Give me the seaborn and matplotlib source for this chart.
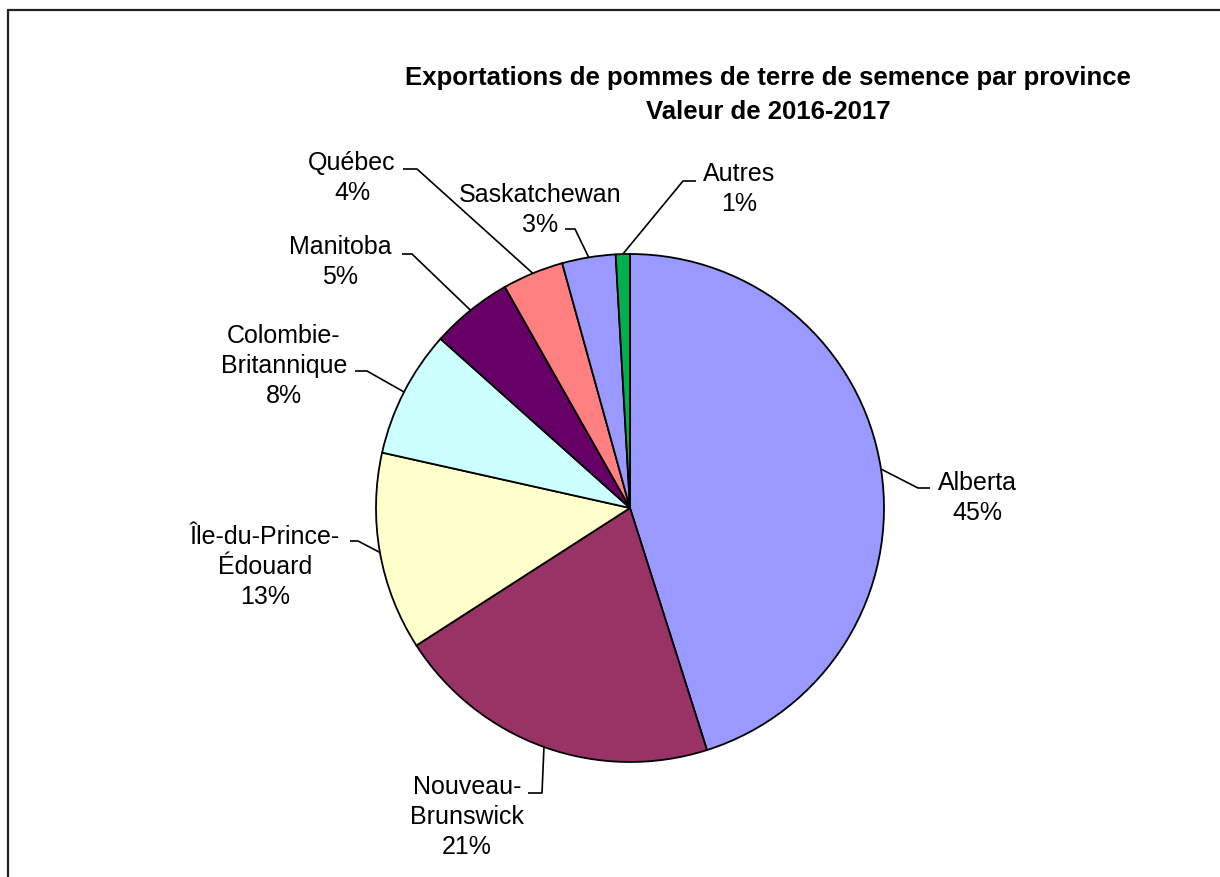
import numpy as np
import matplotlib.pyplot as plt
import seaborn as sns

# Exportations de pommes de terre de semence par province (2016-2017)
provinces = ['Alberta', 'Nouveau-\nBrunswick', 'Île-du-Prince-\nÉdouard',
             'Colombie-\nBritannique', 'Manitoba', 'Québec', 'Saskatchewan', 'Autres']
shares = [45.1, 20.8, 12.6, 8.1, 5.2, 3.9, 3.4, 0.9]
title_lines = ['Exportations de pommes de terre de semence par province',
               'Valeur de 2016-2017']

colors = ['#9999FF', '#993366', '#FFFFCC', '#CCFFFF', '#660066', '#FF8080', '#9999FF', '#00B050']

sns.set_theme(style='white')
plt.rcParams['font.family'] = ['Liberation Sans', 'DejaVu Sans']

W, H = 1220, 878
CX, CY, R = 630, 509, 254


def px(x, y):
    # pixel (from top-left) -> data units (pie radius = 1)
    return (x - CX) / R, (CY - y) / R


# position des étiquettes : centre du texte, coude et fin du trait de rappel
label_pos = [(977, 498), (467, 817), (265, 567), (284, 366),
             (340, 262), (352, 178), (540, 210), (739, 189)]
bends = [(918, 489), (542, 794), (358, 542), (367, 372),
         (412, 255), (417, 170), (575, 230), (683, 182)]
ends = [(930, 489), (528, 794), (350, 542), (355, 372),
        (402, 255), (403, 170), (565, 230), (696, 182)]

fig = plt.figure(figsize=(W / 100, H / 100), dpi=100)
ax = fig.add_axes([0, 0, 1, 1])
wedges, _ = ax.pie(shares, colors=colors, startangle=90, counterclock=False,
                   radius=1, wedgeprops=dict(edgecolor='black', linewidth=1.3))
ax.set_xlim(-CX / R, (W - CX) / R)
ax.set_ylim(-(H - CY) / R, CY / R)
ax.set_aspect('auto')
ax.axis('off')

total = sum(shares)
for w, name, v, lp, b, e in zip(wedges, provinces, shares, label_pos, bends, ends):
    mid = np.deg2rad((w.theta1 + w.theta2) / 2)
    x0, y0 = np.cos(mid), np.sin(mid)
    bx, by = px(*b)
    ex, ey = px(*e)
    ax.plot([x0, bx, ex], [y0, by, ey], color='black', lw=1.2, solid_capstyle='butt')
    tx, ty = px(*lp)
    ax.text(tx, ty, f'{name}\n{round(v / total * 100):.0f}%', ha='center', va='center',
            fontsize=18, linespacing=1.3, color='black')

tx, ty = px(768, 95)
ax.text(tx, ty, '\n'.join(title_lines), ha='center', va='center', fontsize=18.5,
        fontweight='bold', linespacing=1.55, color='black')

# cadre du graphique
fig.add_artist(plt.Line2D([8 / W, 8 / W], [0, 1 - 11 / H], transform=fig.transFigure,
                          color='#222222', lw=1.6))
fig.add_artist(plt.Line2D([8 / W, 1], [1 - 11 / H, 1 - 11 / H], transform=fig.transFigure,
                          color='#222222', lw=1.6))

fig.savefig('out.png', dpi=100, facecolor='white')
